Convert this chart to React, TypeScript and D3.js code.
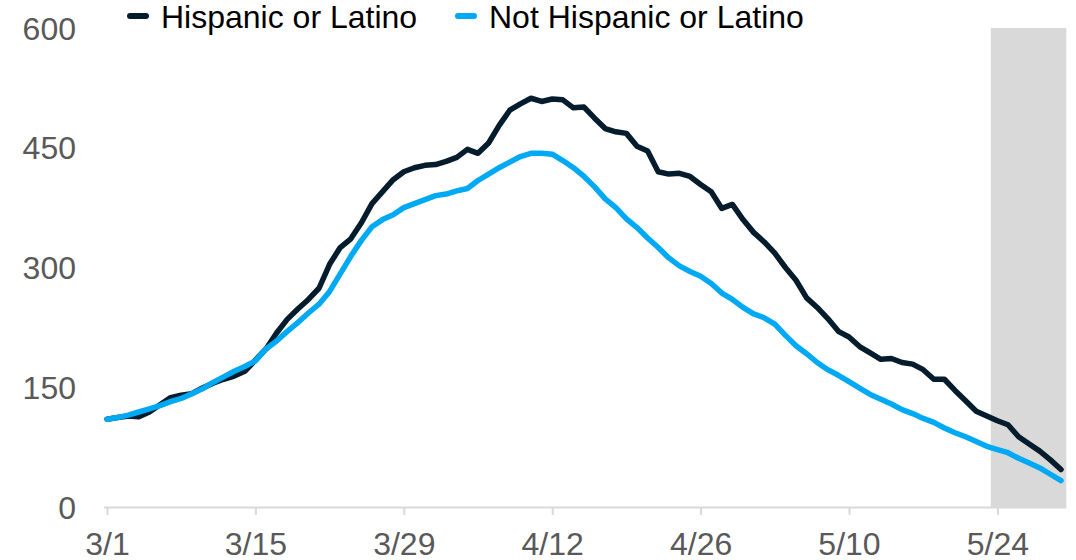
import { useEffect, useRef } from "react";
import * as d3 from "d3";

// daily values, 3/1 .. 5/30
const startDate = new Date(2020, 2, 1);
const hispanic = [
  110, 112, 114, 113, 119, 128, 137, 140, 142, 149, 155, 160, 164, 170, 184, 198,
  218, 235, 248, 260, 274, 304, 325, 336, 356, 380, 395, 410, 420, 425, 428, 429,
  433, 438, 448, 443, 456, 478, 497, 505, 512, 508, 511, 510, 500, 501, 487, 474,
  470, 468, 452, 446, 420, 417, 418, 414, 404, 395, 374, 379, 360, 344, 332, 318,
  300, 284, 262, 250, 236, 220, 213, 201, 193, 185, 186, 181, 179, 172, 160, 160,
  146, 133, 120, 114, 108, 103, 88, 79, 70, 59, 47,
];
const notHispanic = [
  110, 112, 115, 119, 123, 127, 132, 136, 142, 148, 156, 163, 170, 176, 183, 198,
  208, 220, 231, 243, 254, 270, 292, 314, 334, 351, 360, 366, 375, 380, 385, 390,
  392, 396, 399, 409, 417, 425, 432, 439, 443, 443, 442, 434, 425, 414, 401, 386,
  375, 361, 350, 337, 325, 312, 302, 295, 289, 280, 268, 260, 250, 242, 237, 229,
  215, 202, 192, 181, 172, 165, 157, 149, 141, 135, 129, 122, 117, 111, 106, 99,
  93, 88, 82, 76, 72, 68, 61, 55, 49, 41, 33,
];
const seriesNames = ["Hispanic or Latino", "Not Hispanic or Latino"];
const seriesColors = ["#051C2C", "#00A9F4"];
const xTickLabels = ["3/1", "3/15", "3/29", "4/12", "4/26", "5/10", "5/24"];
const yTicks = [0, 150, 300, 450, 600];
// shaded (incomplete data) period, in days from 3/1
const shadeDays = [83.4, 90.5];

const W = 1076;
const H = 560;

export default function App() {
  const ref = useRef<SVGSVGElement | null>(null);

  useEffect(() => {
    const svg = d3.select(ref.current);
    svg.selectAll("*").remove();

    const day = (i: number) => d3.timeDay.offset(startDate, i);
    const dayF = (f: number) => d3.timeHour.offset(startDate, f * 24);
    const x = d3.scaleTime().domain([day(0), day(90)]).range([107, 1061]);
    const y = d3.scaleLinear().domain([0, 600]).range([507, 28]);
    const font = "Liberation Sans, Arial, sans-serif";
    const fs = 32;

    // shaded band
    svg.append("rect")
      .attr("x", x(dayF(shadeDays[0])))
      .attr("y", y(600))
      .attr("width", x(dayF(shadeDays[1])) - x(dayF(shadeDays[0])))
      .attr("height", y(0) - y(600))
      .attr("fill", "#D9D9D9");

    // x axis
    const tickDates = xTickLabels.map((_, i) => day(i * 14));
    const xAxis = d3.axisBottom(x)
      .tickValues(tickDates)
      .tickSize(8)
      .tickSizeOuter(0)
      .tickPadding(17)
      .tickFormat((_, i) => xTickLabels[i]);
    const gx = svg.append("g").attr("transform", `translate(0,${y(0)})`).call(xAxis);
    gx.select(".domain")
      .attr("d", `M${x(day(0)) - 3},0.5H${x(dayF(shadeDays[1]))}`)
      .attr("stroke", "#D9D9D9")
      .attr("stroke-width", 2);
    gx.selectAll(".tick line").attr("stroke", "#D9D9D9").attr("stroke-width", 2);
    gx.selectAll(".tick text")
      .attr("fill", "#595959")
      .attr("font-family", font)
      .attr("font-size", fs)
      .attr("dy", "0.71em");

    // y labels
    svg.append("g")
      .selectAll("text")
      .data(yTicks)
      .join("text")
      .attr("x", 76)
      .attr("y", (d) => y(d))
      .attr("dy", "0.36em")
      .attr("text-anchor", "end")
      .attr("fill", "#595959")
      .attr("font-family", font)
      .attr("font-size", fs)
      .text((d) => d);

    // lines
    const line = d3.line<number>()
      .x((_, i) => x(day(i)))
      .y((d) => y(d));
    [hispanic, notHispanic].forEach((s, i) => {
      svg.append("path")
        .datum(s)
        .attr("d", line)
        .attr("fill", "none")
        .attr("stroke", seriesColors[i])
        .attr("stroke-width", 5.5)
        .attr("stroke-linejoin", "round")
        .attr("stroke-linecap", "round");
    });

    // legend
    const legendX = [130, 458];
    const lg = svg.append("g");
    seriesNames.forEach((name, i) => {
      lg.append("line")
        .attr("x1", legendX[i])
        .attr("x2", legendX[i] + 16)
        .attr("y1", 16)
        .attr("y2", 16)
        .attr("stroke", seriesColors[i])
        .attr("stroke-width", 6)
        .attr("stroke-linecap", "round");
      lg.append("text")
        .attr("x", legendX[i] + 31)
        .attr("y", 28)
        .attr("fill", "#000")
        .attr("font-family", font)
        .attr("font-size", fs)
        .text(name);
    });
  }, []);

  return (
    <svg
      ref={ref}
      width={W}
      height={H}
      style={{ position: "absolute", left: 0, top: 0, background: "#fff" }}
    />
  );
}
